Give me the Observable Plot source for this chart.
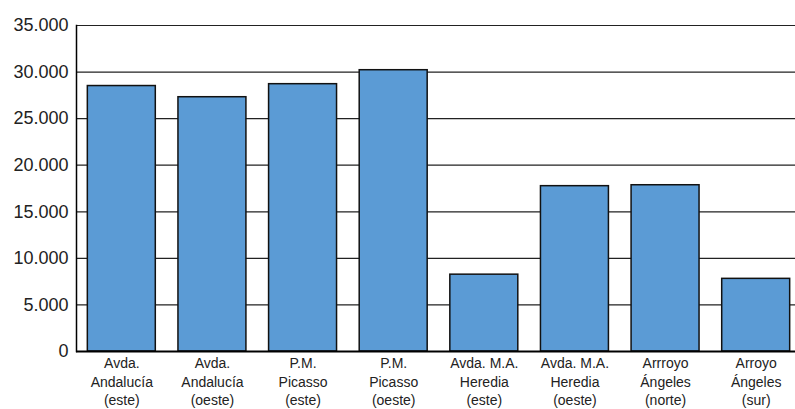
<!DOCTYPE html>
<html>
<head>
<meta charset="utf-8">
<script src="https://cdn.jsdelivr.net/npm/d3@7"></script>
<script src="https://cdn.jsdelivr.net/npm/@observablehq/plot@0.6"></script>
<style>
  html, body { margin: 0; padding: 0; background: #fff; overflow: hidden; }
  #chart { width: 795px; height: 409px; overflow: hidden; }
  #chart svg { max-width: none !important; }
</style>
</head>
<body>
<div id="chart"></div>
<script>
const categories = [
  "Avda.\nAndalucía\n(este)",
  "Avda.\nAndalucía\n(oeste)",
  "P.M.\nPicasso\n(este)",
  "P.M.\nPicasso\n(oeste)",
  "Avda. M.A.\nHeredia\n(este)",
  "Avda. M.A.\nHeredia\n(oeste)",
  "Arrroyo\nÁngeles\n(norte)",
  "Arroyo\nÁngeles\n(sur)"
];
const values = [28500, 27300, 28700, 30200, 8250, 17750, 17850, 7800];
const yTicks = [0, 5000, 10000, 15000, 20000, 25000, 30000, 35000];

const data = categories.map((c, i) => ({cat: c, value: values[i]}));
const es = d3.formatLocale({decimal: ",", thousands: ".", grouping: [3], currency: ["", "€"]});
const fmt = es.format(",");

const chart = Plot.plot({
  width: 801,
  height: 409,
  marginLeft: 76,
  marginRight: 0,
  marginTop: 25,
  marginBottom: 58,
  style: {fontFamily: "Liberation Sans, Arial, sans-serif", background: "#fff", overflow: "visible", maxWidth: "none"},
  x: {domain: categories, paddingInner: 0.25, paddingOuter: 0.125, round: false},
  y: {domain: [0, 35000]},
  marks: [
    Plot.ruleY(yTicks.filter(d => d > 0), {stroke: "#222", strokeWidth: 1.2}),
    Plot.barY(data, {x: "cat", y: "value", fill: "#5B9BD5", stroke: "#111", strokeWidth: 1.5}),
    Plot.frame({anchor: "left", stroke: "#000", strokeWidth: 1.5}),
    Plot.ruleY([0], {stroke: "#000", strokeWidth: 2}),
    Plot.axisY({ticks: yTicks, tickFormat: fmt, tickSize: 0, tickPadding: 8, fontSize: 18, label: null, fill: "#222"}),
    Plot.axisX({tickSize: 0, tickPadding: 4, fontSize: 14, lineHeight: 1.3, label: null, fill: "#222"})
  ]
});
document.getElementById("chart").appendChild(chart);
</script>
</body>
</html>
